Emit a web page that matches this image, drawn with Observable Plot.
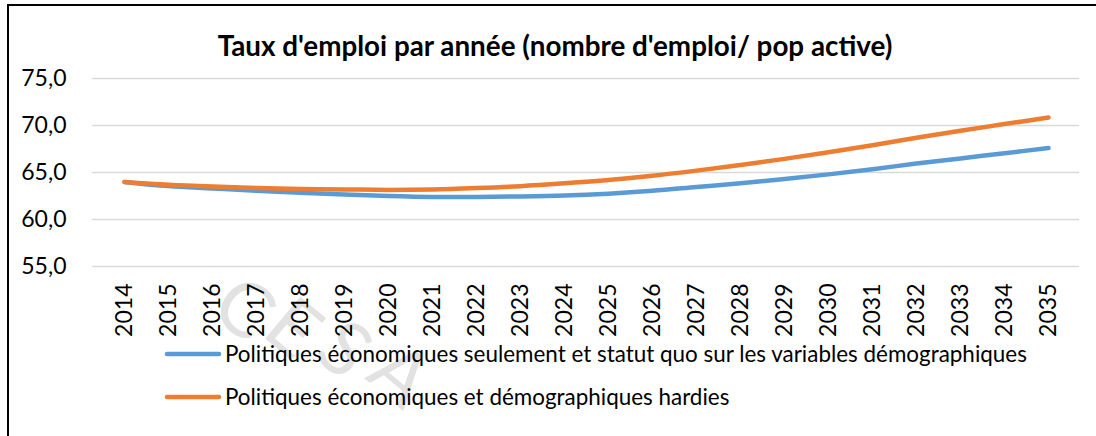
<!DOCTYPE html>
<html>
<head>
<meta charset="utf-8">
<script src="https://cdn.jsdelivr.net/npm/d3@7"></script>
<script src="https://cdn.jsdelivr.net/npm/@observablehq/plot@0.6"></script>
<style>
  html, body { margin: 0; padding: 0; background: #fff; }
  #wrap { position: relative; width: 1096px; height: 436px; overflow: hidden; background: #fff; }
  #frame { position: absolute; left: 7px; top: 4px; width: 1200px; height: 600px; border-left: 2px solid #000; border-top: 2px solid #000; box-sizing: border-box; }
  #wrap svg { position: absolute; left: 0; top: 0; }
</style>
</head>
<body>
<div id="wrap"><div id="frame"></div></div>
<script>
const title = "Taux d'emploi par année (nombre d'emploi/ pop active)";
const years = [2014,2015,2016,2017,2018,2019,2020,2021,2022,2023,2024,2025,2026,2027,2028,2029,2030,2031,2032,2033,2034,2035];
const seriesNames = [
  "Politiques économiques seulement et statut quo sur les variables démographiques",
  "Politiques économiques et démographiques hardies"
];
const blueValues = [64.0,63.55,63.3,63.05,62.85,62.65,62.5,62.4,62.4,62.45,62.55,62.75,63.05,63.45,63.85,64.3,64.8,65.35,65.95,66.5,67.05,67.6];
const orangeValues = [64.0,63.7,63.5,63.35,63.25,63.2,63.15,63.2,63.35,63.55,63.85,64.2,64.65,65.2,65.8,66.45,67.15,67.9,68.7,69.45,70.15,70.85];
const yTicks = [55,60,65,70,75];
const colors = ["#5B9BD5", "#ED7D31"];
const watermarkLetters = ["C", "E", "S", "A"];

const data = [];
years.forEach((yr, i) => {
  data.push({year: String(yr), value: blueValues[i], series: seriesNames[0]});
});
years.forEach((yr, i) => {
  data.push({year: String(yr), value: orangeValues[i], series: seriesNames[1]});
});

const FONT = "Lato, 'Open Sans', sans-serif";

const chart = Plot.plot({
  width: 1096,
  height: 436,
  marginLeft: 92,
  marginRight: 17,
  marginTop: 78,
  marginBottom: 170,
  style: {fontFamily: FONT, fontSize: "23px", color: "#000", background: "transparent", overflow: "visible"},
  x: {type: "point", domain: years.map(String), padding: 0.5, label: null},
  y: {domain: [55, 75], label: null},
  color: {domain: seriesNames, range: colors},
  marks: [
    Plot.gridY(yTicks, {stroke: "#d9d9d9", strokeOpacity: 1, strokeWidth: 1.5}),
    Plot.axisY(yTicks, {tickSize: 0, tickPadding: 26, tickFormat: d => d.toFixed(1).replace(".", ","), fontSize: 23, fill: "#000"}),
    Plot.axisX({tickSize: 0, tickPadding: 17, tickRotate: -90, fontSize: 23, fill: "#000"}),
    Plot.line(data, {x: "year", y: "value", z: "series", stroke: "series", strokeWidth: 4.5, curve: "catmull-rom", strokeLinecap: "round", strokeLinejoin: "round"})
  ]
});

document.getElementById("wrap").appendChild(chart);

const svg = d3.select(chart);

// faint watermark letters, drawn beneath everything
const wm = svg.insert("g", ":first-child");
watermarkLetters.forEach((ch, i) => {
  wm.append("text")
    .attr("transform", `translate(${208 + i * 52},${312 + i * 22}) rotate(40)`)
    .attr("text-anchor", "start")
    .attr("font-family", FONT)
    .attr("font-weight", 400)
    .attr("font-size", 76)
    .attr("fill", "#e2e2e2")
    .text(ch);
});

function fit(sel, target) {
  const node = sel.node();
  const len = node.getComputedTextLength();
  const fs = parseFloat(sel.attr("font-size"));
  sel.attr("font-size", (fs * target / len).toFixed(2));
}

// title
const t = svg.append("text")
  .attr("x", 555).attr("y", 56)
  .attr("text-anchor", "middle")
  .attr("font-family", FONT)
  .attr("font-weight", "bold")
  .attr("font-size", 24)
  .attr("fill", "#000")
  .text(title);
fit(t, 675);

// legend
const legY = [354, 397];
const legTexts = [];
seriesNames.forEach((name, i) => {
  svg.append("line")
    .attr("x1", 167).attr("x2", 219)
    .attr("y1", legY[i]).attr("y2", legY[i])
    .attr("stroke", colors[i]).attr("stroke-width", 4.5).attr("stroke-linecap", "round");
  const lt = svg.append("text")
    .attr("x", 225).attr("y", legY[i] + 8)
    .attr("text-anchor", "start")
    .attr("font-family", FONT)
    .attr("font-size", 21)
    .attr("fill", "#000")
    .text(name);
  legTexts.push(lt);
});
fit(legTexts[0], 802);
legTexts[1].attr("font-size", legTexts[0].attr("font-size"));
</script>
</body>
</html>
